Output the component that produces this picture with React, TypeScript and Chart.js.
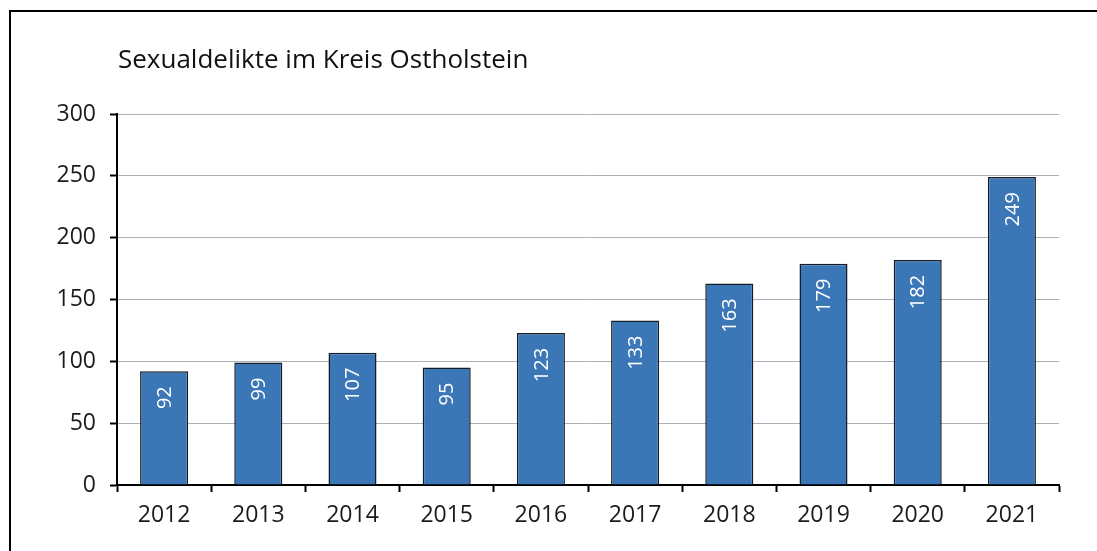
import React, { useEffect, useRef } from "react";
import { Chart, registerables } from "chart.js";

Chart.register(...registerables);

const title = "Sexualdelikte im Kreis Ostholstein";
const years = ["2012", "2013", "2014", "2015", "2016", "2017", "2018", "2019", "2020", "2021"];
const cases = [92, 99, 107, 95, 123, 133, 163, 179, 182, 249];

const FONT = "'Open Sans', 'Noto Sans', sans-serif";

const overlay = {
  id: "overlay",
  afterDatasetsDraw(chart: any) {
    const { ctx, chartArea } = chart;
    ctx.save();
    // title
    ctx.fillStyle = "#111";
    ctx.font = `26px ${FONT}`;
    ctx.textAlign = "left";
    ctx.textBaseline = "alphabetic";
    ctx.fillText(title, chartArea.left + 1, 68);
    // value labels
    const meta = chart.getDatasetMeta(0);
    ctx.fillStyle = "#ffffff";
    ctx.font = `20px ${FONT}`;
    meta.data.forEach((bar: any, i: number) => {
      ctx.save();
      ctx.translate(bar.x, bar.y + 15);
      ctx.rotate(-Math.PI / 2);
      ctx.textAlign = "right";
      ctx.textBaseline = "middle";
      ctx.fillText(String(cases[i]), 0, 1);
      ctx.restore();
    });
    ctx.restore();
  },
};

export default function App() {
  const ref = useRef<HTMLCanvasElement | null>(null);
  useEffect(() => {
    if (!ref.current) return;
    const chart = new Chart(ref.current, {
      type: "bar",
      data: {
        labels: years,
        datasets: [
          {
            data: cases,
            backgroundColor: "#3b77b7",
            borderColor: "#141c26",
            borderWidth: 1.5,
            categoryPercentage: 1,
            barPercentage: 0.51,
          },
        ],
      },
      options: {
        animation: false,
        responsive: false,
        maintainAspectRatio: false,
        layout: { padding: { top: 114, right: 38, left: 0, bottom: 0 } },
        plugins: { legend: { display: false }, tooltip: { enabled: false }, title: { display: false } },
        scales: {
          x: {
            grid: {
              offset: true,
              drawOnChartArea: false,
              tickLength: 7,
              tickColor: "#000",
              tickWidth: 2,
            },
            border: { color: "#000", width: 2 },
            ticks: { color: "#1a1a1a", font: { family: FONT, size: 23 }, padding: 10 },
            afterFit: (s: any) => {
              s.height = 66;
            },
          },
          y: {
            min: 0,
            max: 300,
            ticks: { stepSize: 50, color: "#1a1a1a", font: { family: FONT, size: 23 }, padding: 14 },
            grid: { color: "#a9b2bb", lineWidth: 1, tickLength: 7, tickColor: "#000", tickWidth: 2 },
            border: { color: "#000", width: 2 },
            afterFit: (s: any) => {
              s.width = 117;
            },
          },
        },
      },
      plugins: [overlay],
    });
    return () => chart.destroy();
  }, []);
  return (
    <div style={{ position: "fixed", left: 0, top: 0, width: 1097, height: 551, overflow: "hidden", background: "#fff" }}>
      <div
        style={{
          position: "absolute",
          left: 9,
          top: 10,
          width: 1300,
          height: 800,
          border: "2px solid #000",
          boxSizing: "border-box",
        }}
      />
      <canvas ref={ref} width={1097} height={551} style={{ position: "absolute", left: 0, top: 0 }} />
    </div>
  );
}
